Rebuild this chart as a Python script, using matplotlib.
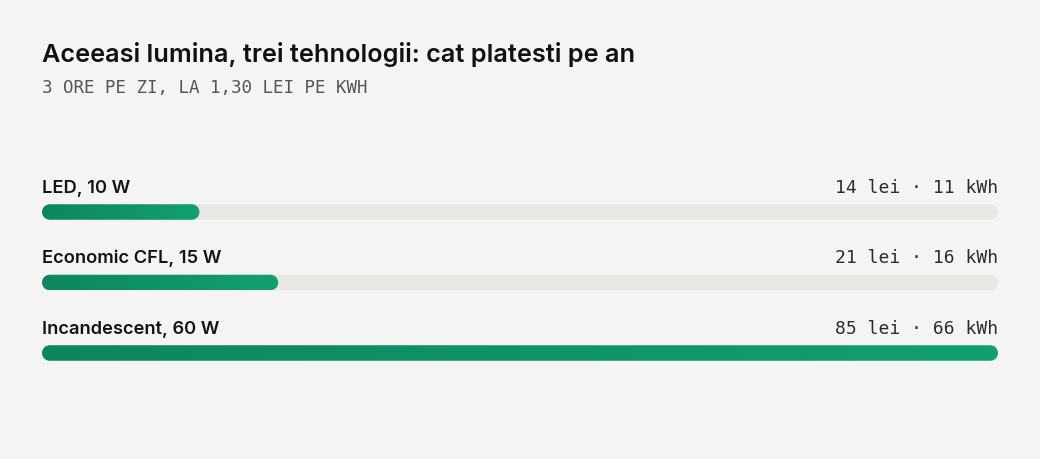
import numpy as np
import matplotlib.pyplot as plt
from matplotlib.path import Path
from matplotlib.patches import PathPatch
from matplotlib.colors import LinearSegmentedColormap

labels = ['LED, 10 W', 'Economic CFL, 15 W', 'Incandescent, 60 W']
cost_lei = [14, 21, 85]
energy_kwh = [11, 16, 66]

title = 'Aceeasi lumina, trei tehnologii: cat platesti pe an'
subtitle = '3 ORE PE ZI, LA 1,30 LEI PE KWH'

bg = '#f4f5f2'
track_color = '#e7e8e4'
green = LinearSegmentedColormap.from_list('g', ['#0d8660', '#12a06e'])

W, H = 1040, 460
fig = plt.figure(figsize=(W / 100, H / 100), dpi=100, facecolor=bg)

# axes holding the bars (pixel layout -> figure fractions)
left, right, top, bottom = 42, 998, 201, 366
ax = fig.add_axes([left / W, 1 - bottom / H, (right - left) / W, (bottom - top) / H])
ax.set_facecolor(bg)
ax.axis('off')

xmax = max(cost_lei)
n = len(labels)
pad = 12 / 70.5
ax.set_xlim(0, xmax)
ax.set_ylim(n - 1 + pad, -pad)

bar_h_px = 15.5
# data units per pixel
x_per_px = xmax / (right - left)
y_per_px = (n - 1 + 2 * pad) / (bottom - top)
bar_h = bar_h_px * y_per_px
rx = bar_h_px / 2 * x_per_px
ry = bar_h / 2


def pill(x0, x1, yc):
    # rounded bar outline, semicircular ends
    arc_r = Path.arc(-90, 90)
    arc_l = Path.arc(90, 270)
    verts = [(x0 + rx, yc - ry), (x1 - rx, yc - ry)]
    codes = [Path.MOVETO, Path.LINETO]
    for arc, cx in ((arc_r, x1 - rx), (arc_l, x0 + rx)):
        v = arc.vertices * [rx, ry] + [cx, yc]
        c = list(arc.codes)
        c[0] = Path.LINETO
        verts += [tuple(p) for p in v]
        codes += c
    verts.append((x0 + rx, yc - ry))
    codes.append(Path.CLOSEPOLY)
    return Path(verts, codes)


grad = np.linspace(0, 1, 256).reshape(1, -1)

for i, (lab, c, e) in enumerate(zip(labels, cost_lei, energy_kwh)):
    ax.add_patch(PathPatch(pill(0, xmax, i), fc=track_color, ec='none'))

    bar = PathPatch(pill(0, c, i), fc='none', ec='none')
    ax.add_patch(bar)
    im = ax.imshow(grad, cmap=green, aspect='auto',
                   extent=(0, c, i + bar_h / 2, i - bar_h / 2), zorder=2)
    im.set_clip_path(bar)

    ax.annotate(lab, (0, i), xytext=(0, 14.5), textcoords='offset points',
                ha='left', va='baseline', fontsize=13.2, family='Inter',
                fontweight='semibold', color='#141414', annotation_clip=False)
    ax.annotate(f'{c} lei · {e} kWh', (xmax, i), xytext=(0, 14.5),
                textcoords='offset points', ha='right', va='baseline',
                fontsize=13.0, family='DejaVu Sans Mono', color='#2c2c2c',
                annotation_clip=False)

ax.set_xlim(0, xmax)
ax.set_ylim(n - 1 + pad, -pad)

fig.text(42 / W, 1 - 62 / H, title, ha='left', va='baseline',
         fontsize=18.2, family='Inter', fontweight='semibold', color='#111111')
fig.text(42 / W, 1 - 93 / H, subtitle, ha='left', va='baseline',
         fontsize=12.6, family='DejaVu Sans Mono', color='#555555')

fig.savefig('out.png', dpi=100, facecolor=bg)
